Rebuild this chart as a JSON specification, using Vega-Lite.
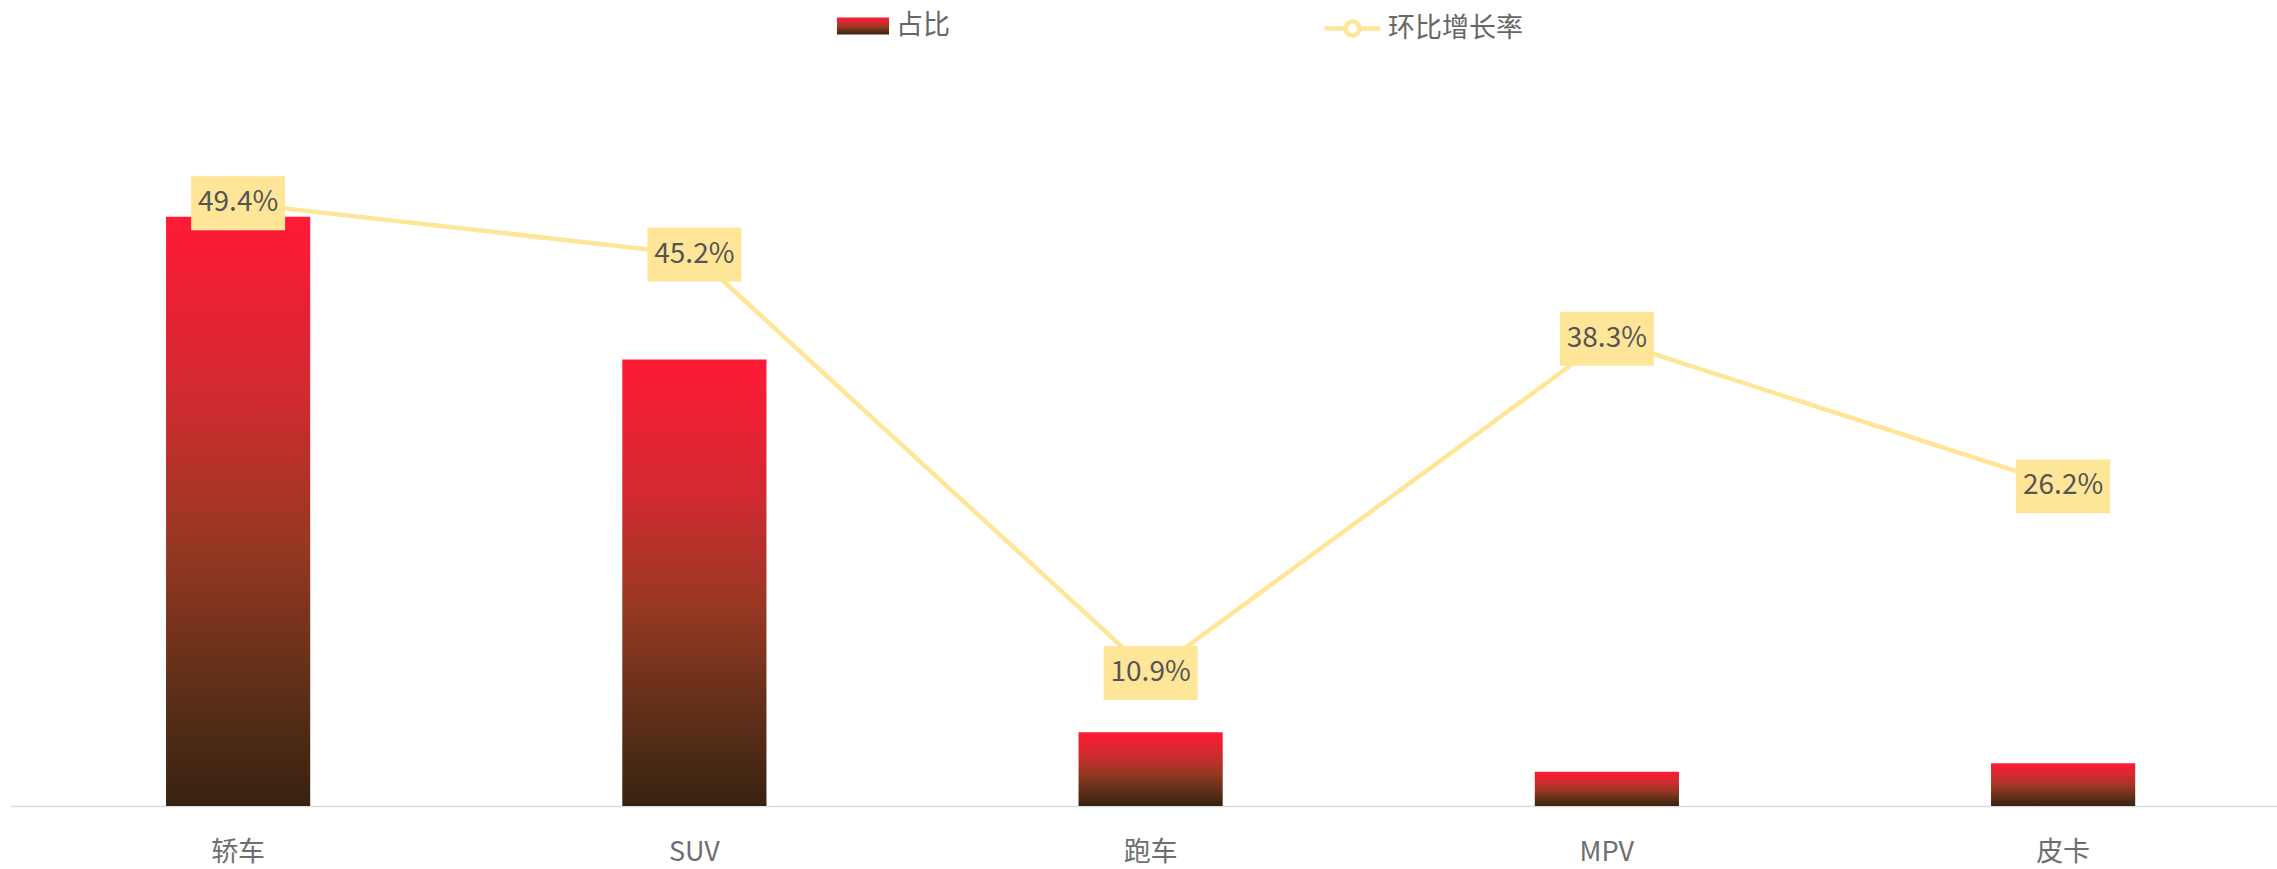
{
  "$schema": "https://vega.github.io/schema/vega-lite/v6.json",
  "autosize": {"type": "none"},
  "width": 2267,
  "height": 732,
  "padding": {"left": 10, "top": 74, "right": 0, "bottom": 63},
  "background": "#ffffff",
  "config": {
    "view": {"stroke": null},
    "font": "Noto Sans CJK SC",
    "text": {"font": "Noto Sans CJK SC"},
    "legend": {
      "title": null,
      "orient": "none",
      "direction": "horizontal",
      "padding": 0,
      "symbolSize": 3136,
      "labelFont": "Noto Sans CJK SC",
      "labelFontSize": 27,
      "labelColor": "#666666",
      "labelOffset": 5
    }
  },
  "resolve": {"scale": {"opacity": "independent"}, "legend": {"opacity": "independent"}},
  "data": {
    "values": [
      {"cat": "轿车", "share": 48.3, "growth": 49.4, "label": "49.4%"},
      {"cat": "SUV", "share": 36.6, "growth": 45.2, "label": "45.2%"},
      {"cat": "跑车", "share": 6.05, "growth": 10.9, "label": "10.9%"},
      {"cat": "MPV", "share": 2.8, "growth": 38.3, "label": "38.3%"},
      {"cat": "皮卡", "share": 3.5, "growth": 26.2, "label": "26.2%"}
    ]
  },
  "encoding": {
    "x": {
      "field": "cat",
      "type": "nominal",
      "sort": null,
      "scale": {"range": [0, 2281.25], "paddingInner": 0.684, "paddingOuter": 0.342},
      "axis": {
        "title": null,
        "labelAngle": 0,
        "ticks": false,
        "grid": false,
        "domain": true,
        "domainColor": "#dcdcdc",
        "domainWidth": 1.5,
        "labelFont": "Noto Sans CJK SC",
        "labelFontSize": 27,
        "labelColor": "#6e6e6e",
        "labelPadding": 33
      }
    }
  },
  "layer": [
    {
      "mark": {
        "type": "bar",
        "fill": {
          "gradient": "linear",
          "x1": 0, "y1": 0, "x2": 0, "y2": 1,
          "stops": [
            {"offset": 0, "color": "#ff1a35"},
            {"offset": 0.3, "color": "#d22a30"},
            {"offset": 0.55, "color": "#983823"},
            {"offset": 0.8, "color": "#5e2f18"},
            {"offset": 1, "color": "#372311"}
          ]
        }
      },
      "encoding": {
        "y": {"field": "share", "type": "quantitative", "scale": {"domain": [0, 60], "nice": false, "zero": true}, "axis": null},
        "opacity": {
          "datum": "占比",
          "type": "nominal",
          "scale": {"domain": ["占比"], "range": [1, 1]},
          "legend": {
            "legendX": 825,
            "legendY": -76,
            "symbolType": "M-0.929,-0.304H0.929V0.304H-0.929Z",
            "symbolStrokeWidth": 0
          }
        }
      }
    },
    {
      "mark": {"type": "line", "stroke": "#ffe598", "strokeWidth": 4.5},
      "encoding": {
        "y": {"field": "growth", "type": "quantitative"},
        "opacity": {
          "datum": "环比增长率",
          "type": "nominal",
          "scale": {"domain": ["环比增长率"], "range": [1, 1]},
          "legend": {
            "legendX": 1312,
            "legendY": -76,
            "symbolType": "M-1,0H-0.25M0.25,0H1M-0.25,0A0.25,0.25,0,1,0,0.25,0A0.25,0.25,0,1,0,-0.25,0",
            "symbolStrokeColor": "#ffe598",
            "symbolFillColor": "#ffffff",
            "symbolStrokeWidth": 4.5
          }
        }
      }
    },
    {
      "mark": {
        "type": "point",
        "filled": true,
        "fill": "#ffe598",
        "opacity": 1,
        "shape": "M-1,-0.574H1V0.574H-1Z",
        "size": 8836,
        "strokeWidth": 0
      },
      "encoding": {
        "y": {"field": "growth", "type": "quantitative"}
      }
    },
    {
      "mark": {
        "type": "text",
        "font": "Noto Sans CJK SC",
        "fontSize": 28,
        "color": "#555555",
        "baseline": "middle",
        "align": "center"
      },
      "encoding": {
        "y": {"field": "growth", "type": "quantitative"},
        "text": {"field": "label", "type": "nominal"}
      }
    }
  ]
}
